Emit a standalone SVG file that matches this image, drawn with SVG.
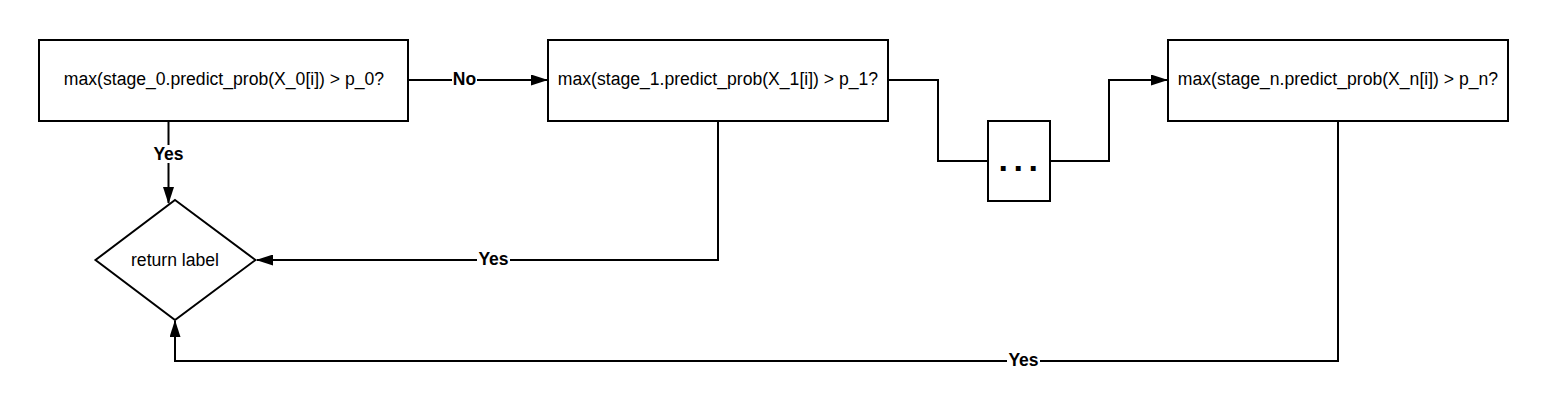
<svg xmlns="http://www.w3.org/2000/svg" width="1548" height="413" viewBox="0 0 1548 413">
<style>
.box{fill:#fff;stroke:#000;stroke-width:2}
.t{font-family:"Liberation Sans",Arial,sans-serif;font-size:17.6px;fill:#000;text-anchor:middle}
.e{fill:none;stroke:#000;stroke-width:2}
.lbl{font-family:"Liberation Sans",Arial,sans-serif;font-size:17.5px;font-weight:bold;fill:#000;text-anchor:middle}
.lb{fill:#fff}
</style>
<defs>
<marker id="ah" markerWidth="17" markerHeight="11" refX="16" refY="5.5" orient="auto" markerUnits="userSpaceOnUse">
<path d="M0,0 L17,5.5 L0,11 Z" fill="#000"/>
</marker>
</defs>
<rect width="1548" height="413" fill="#fff"/>
<g id="connectors">
<path class="e" d="M408,80 H547" marker-end="url(#ah)"/>
<path class="e" d="M168.5,121 V203" marker-end="url(#ah)"/>
<path class="e" d="M718,121 V260 H257" marker-end="url(#ah)"/>
<path class="e" d="M888,80 H938 V161 H988"/>
<path class="e" d="M1050,161 H1109 V80 H1167" marker-end="url(#ah)"/>
<path class="e" d="M1338,121 V361 H175 V321" marker-end="url(#ah)"/>
<rect class="lb" x="452" y="70" width="25" height="18"/>
<text class="lbl" x="464.5" y="85">No</text>
<rect class="lb" x="152" y="145" width="33" height="18"/>
<text class="lbl" x="168.5" y="160">Yes</text>
<rect class="lb" x="477" y="250" width="33" height="18"/>
<text class="lbl" x="493.5" y="265">Yes</text>
<rect class="lb" x="1007" y="351" width="33" height="18"/>
<text class="lbl" x="1023.5" y="366">Yes</text>
</g>
<g id="stage0">
<rect class="box" x="39" y="40" width="369" height="81"/>
<text class="t" x="224" y="85">max(stage_0.predict_prob(X_0[i]) &gt; p_0?</text>
</g>
<g id="stage1">
<rect class="box" x="548" y="40" width="340" height="81"/>
<text class="t" x="718" y="85">max(stage_1.predict_prob(X_1[i]) &gt; p_1?</text>
</g>
<g id="ellipsis">
<rect class="box" x="988" y="121" width="62" height="80"/>
<text class="lbl" x="998.5" y="171" style="font-size:34px;text-anchor:start;letter-spacing:5.5px">...</text>
</g>
<g id="stagen">
<rect class="box" x="1168" y="40" width="340" height="81"/>
<text class="t" x="1338" y="85">max(stage_n.predict_prob(X_n[i]) &gt; p_n?</text>
</g>
<g id="return">
<path class="box" d="M175,200 L255.5,260 L175,320 L95.5,260 Z"/>
<text class="t" x="175" y="266">return label</text>
</g>
</svg>
